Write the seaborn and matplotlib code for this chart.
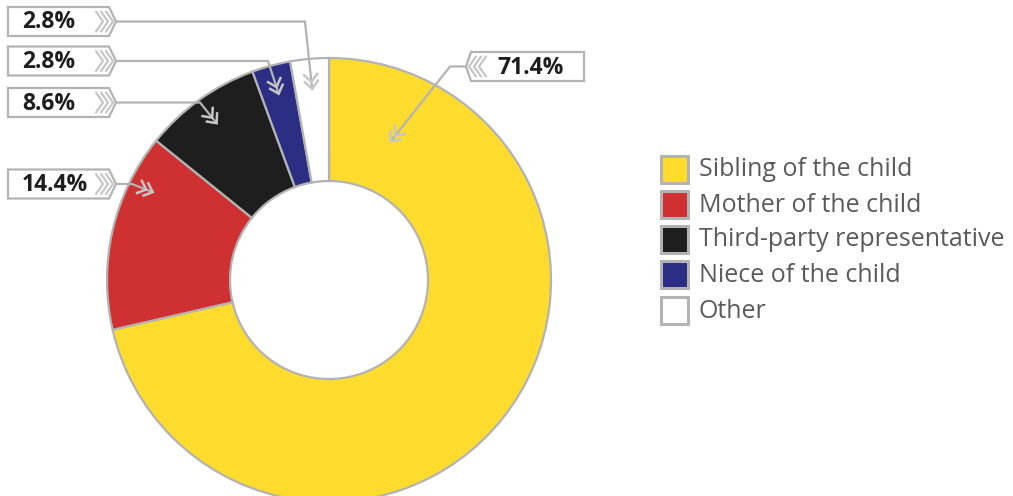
import numpy as np
import matplotlib
matplotlib.use("Agg")
import matplotlib.pyplot as plt
import seaborn as sns
from matplotlib.patches import Polygon, Rectangle

# ---- data ----
categories = ["Sibling of the child", "Mother of the child",
              "Third-party representative", "Niece of the child", "Other"]
shares = [71.4, 14.4, 8.6, 2.8, 2.8]
value_labels = ["71.4%", "14.4%", "8.6%", "2.8%", "2.8%"]
colors = ["#FEDC2E", "#CF3032", "#1E1E1E", "#2B2E83", "#FFFFFF"]

sns.set_theme(style="white")
plt.rcParams["font.family"] = ["Open Sans", "DejaVu Sans"]

W, H = 1013, 496
fig = plt.figure(figsize=(W / 100, H / 100), dpi=100)
ax = fig.add_axes([0, 0, 1, 1])

GRAY = "#b3b3b3"
CHEV = "#c6c6c6"
cx, cy = 329, H - 280
R, R_IN = 222, 99

wedges, _ = ax.pie(shares, colors=colors, startangle=90, counterclock=False,
                   radius=R, center=(cx, cy),
                   wedgeprops=dict(width=R - R_IN, edgecolor=GRAY, linewidth=1.6))
ax.set_xlim(0, W)
ax.set_ylim(0, H)
ax.set_aspect("equal")
ax.axis("off")


def chevron(tip, d, arm=11, ang=42, color=CHEV, lw=1.8, z=6):
    d = np.asarray(d, float)
    d = d / np.hypot(*d)
    a = np.deg2rad(ang)
    back = -d
    rot = lambda v, t: np.array([v[0] * np.cos(t) - v[1] * np.sin(t),
                                 v[0] * np.sin(t) + v[1] * np.cos(t)])
    p1 = tip + arm * rot(back, a)
    p2 = tip + arm * rot(back, -a)
    ax.plot([p1[0], tip[0], p2[0]], [p1[1], tip[1], p2[1]], color=color,
            lw=lw, solid_capstyle="butt", solid_joinstyle="miter", zorder=z)


# layout of callouts: (box side, box x0, box x1, centre y px, knee x, pointer angle, pointer radius)
mids = []
acc = 0
for s in shares:
    mids.append(90 - (acc + s / 2) * 3.6)
    acc += s
layout = [
    ("R", 471, 584, 66.5, 450, 66, 152),
    ("L", 8, 109, 184, 132, 153.5, 197),
    ("L", 8, 109, 102.5, 200, mids[2], 193),
    ("L", 8, 109, 61, 268, mids[3], 193),
    ("L", 8, 109, 21.5, 305, mids[4], 192),
]
BH = 29
for lab, (side, x0, x1, ycp, kx, ang, rad) in zip(value_labels, layout):
    yc = H - ycp
    top, bot = yc + BH / 2, yc - BH / 2
    if side == "L":
        tipx = x1 + 7
        poly = [(x0, top), (x1, top), (tipx, yc), (x1, bot), (x0, bot)]
        for t in (tipx - 3, tipx - 8, tipx - 13):
            ax.plot([t - 7, t, t - 7], [yc + 10, yc, yc - 10], color=CHEV, lw=1.6,
                    solid_joinstyle="miter", zorder=6)
        ax.text(x0 + 14, yc - 1, lab, fontsize=16.5, fontweight="bold",
                color="#1e1e1e", va="center", ha="left", zorder=7)
    else:
        tipx = x0 - 5
        poly = [(x1, top), (x0, top), (tipx, yc), (x0, bot), (x1, bot)]
        for t in (tipx + 3, tipx + 8, tipx + 13):
            ax.plot([t + 7, t, t + 7], [yc + 10, yc, yc - 10], color=CHEV, lw=1.6,
                    solid_joinstyle="miter", zorder=6)
        ax.text(x0 + 26, yc - 1, lab, fontsize=16.5, fontweight="bold",
                color="#1e1e1e", va="center", ha="left", zorder=7)
    ax.add_patch(Polygon(poly, closed=True, fc="white", ec=GRAY, lw=1.6, zorder=5))
    tx = cx + rad * np.cos(np.deg2rad(ang))
    ty = cy + rad * np.sin(np.deg2rad(ang))
    ax.plot([tipx, kx, tx], [yc, yc, ty], color=GRAY, lw=1.6, zorder=5,
            solid_joinstyle="miter")
    d = np.array([tx - kx, ty - yc])
    tip = np.array([tx, ty])
    chevron(tip, d)
    chevron(tip - 7 * d / np.hypot(*d), d)

# legend
leg_y = [169, 204, 239, 274, 310]
for cat, col, ly in zip(categories, colors, leg_y):
    yc = H - ly
    ax.add_patch(Rectangle((661, yc - 13.5), 27, 27, fc=col, ec=GRAY, lw=2.2, zorder=5))
    ax.text(699, yc - 1, cat, fontsize=18, color="#5a5a5a", va="center", ha="left")

fig.savefig("out.png", dpi=100)
